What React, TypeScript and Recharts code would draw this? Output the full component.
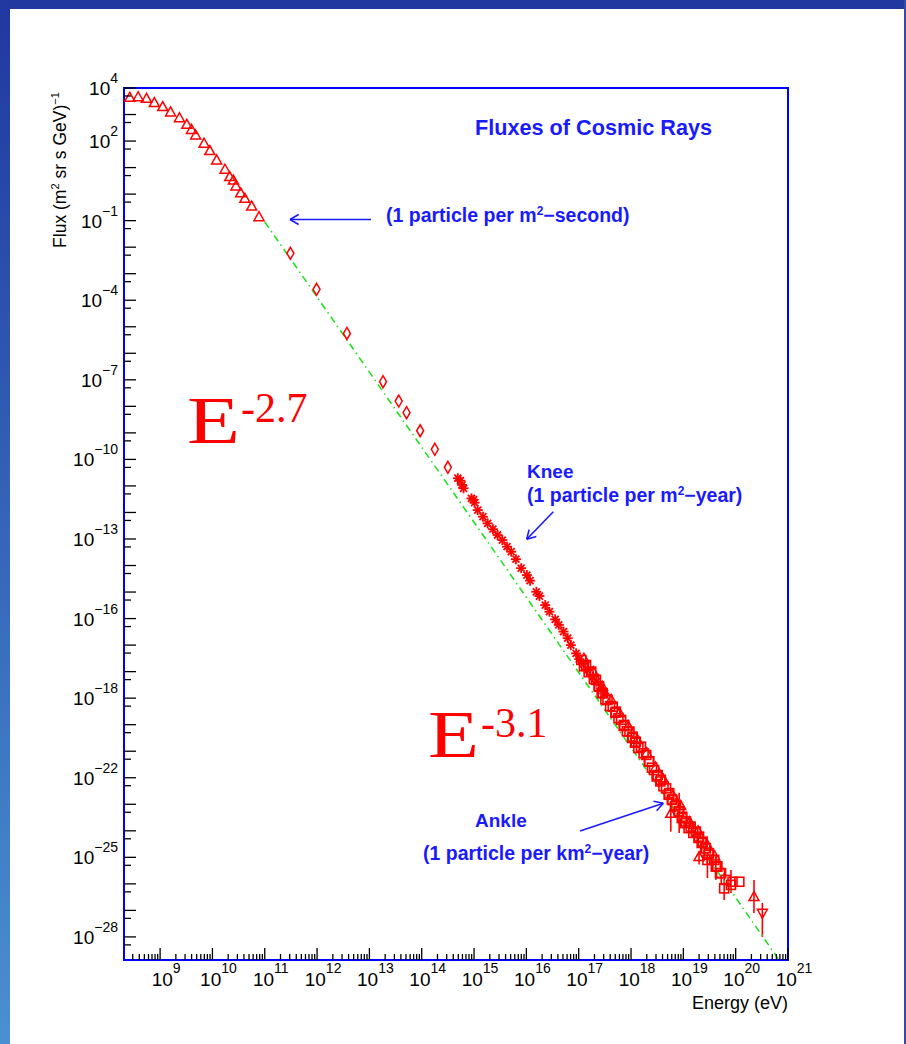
import React from 'react';
import { ScatterChart, Scatter, XAxis, YAxis, ReferenceArea, ErrorBar } from 'recharts';

// ---------- axis ranges (log10 units) ----------
const X_MIN = 8.31;
const X_MAX = 21;
const Y_MIN = -28.87;
const Y_MAX = 4;

// ---------- tick labels ----------
const X_LABEL_POS = [9, 10, 11, 12, 13, 14, 15, 16, 17, 18, 19, 20, 21];
const X_LABEL_EXP = ['9', '10', '11', '12', '13', '14', '15', '16', '17', '18', '19', '20', '21'];
const Y_LABEL_POS = [4, 2, -1, -4, -7, -10, -13, -16, -19, -22, -25, -28];
const Y_LABEL_EXP = ['4', '2', '\u22121', '\u22124', '\u22127', '\u221210', '\u221213', '\u221216', '\u221218', '\u221222', '\u221225', '\u221228'];

// ---------- data (log10 E [eV], log10 flux) ----------
const TRI_LOGE = [8.42, 8.58, 8.74, 8.89, 9.05, 9.2, 9.37, 9.51, 9.6, 9.68, 9.84, 9.95, 10.08, 10.24, 10.33, 10.4, 10.45, 10.54, 10.62, 10.75, 10.89];
const TRI_LOGF = [3.65, 3.67, 3.61, 3.45, 3.3, 3.1, 2.88, 2.63, 2.44, 2.23, 1.92, 1.64, 1.29, 0.94, 0.66, 0.53, 0.31, 0.05, -0.16, -0.45, -0.85];

const DIA_LOGE = [11.49, 11.99, 12.57, 13.26, 13.56, 13.71, 13.97, 14.25, 14.5];
const DIA_LOGF = [-2.23, -3.59, -5.25, -7.07, -7.8, -8.24, -8.92, -9.62, -10.3];

const STAR_LOGE = [14.69, 14.74, 14.77, 14.8, 14.95, 14.99, 15.01, 15.07, 15.17, 15.26, 15.36, 15.45, 15.54, 15.63, 15.71, 15.8, 15.9, 16.01, 16.07, 16.19, 16.25, 16.36, 16.44, 16.55, 16.62, 16.71, 16.79, 16.85, 16.95, 17.01, 17.09, 17.17, 17.27, 17.34, 17.43, 17.49];
const STAR_LOGF = [-10.71, -10.8, -10.96, -11.09, -11.47, -11.52, -11.63, -11.91, -12.16, -12.41, -12.63, -12.85, -13.04, -13.29, -13.48, -13.76, -14.1, -14.36, -14.57, -14.99, -15.15, -15.49, -15.74, -16.03, -16.24, -16.49, -16.74, -17.0, -17.31, -17.53, -17.71, -17.94, -18.19, -18.38, -18.63, -18.82];

const SQ_LOGE = [17.05, 17.14, 17.24, 17.33, 17.39, 17.46, 17.55, 17.65, 17.71, 17.81, 17.87, 17.97, 18.03, 18.09, 18.19, 18.29, 18.35, 18.44, 18.51, 18.57, 18.67, 18.73, 18.79, 18.86, 18.92, 18.98, 19.05, 19.14, 19.24, 19.3, 19.37, 19.43, 19.49, 19.59, 19.65, 19.72, 19.81, 19.94, 20.07];
const SQ_LOGF = [-17.56, -17.75, -18.0, -18.31, -18.57, -18.82, -19.07, -19.32, -19.51, -19.82, -20.01, -20.26, -20.45, -20.64, -20.83, -21.14, -21.39, -21.71, -21.9, -22.08, -22.4, -22.58, -22.84, -23.03, -23.28, -23.47, -23.65, -23.84, -24.03, -24.22, -24.41, -24.66, -24.85, -25.1, -25.35, -25.6, -25.85, -25.92, -25.92];

const SQ2_LOGE = [17.1, 17.19, 17.29, 17.38, 17.44, 17.51, 17.6, 17.7, 17.76, 17.86, 17.92, 18.02, 18.08, 18.14, 18.24, 18.34, 18.4, 18.49, 18.56, 18.62, 18.72, 18.78, 18.84, 18.91, 18.97, 19.03, 19.1, 19.19, 19.29, 19.35, 19.42, 19.48, 19.54, 19.64, 19.7];
const SQ2_LOGF = [-17.8, -18.02, -18.28, -18.55, -18.8, -19.05, -19.3, -19.55, -19.75, -20.05, -20.25, -20.5, -20.68, -20.88, -21.08, -21.38, -21.62, -21.95, -22.14, -22.32, -22.64, -22.82, -23.08, -23.27, -23.52, -23.71, -23.9, -24.08, -24.27, -24.46, -24.65, -24.9, -25.09, -25.34, -25.59];

const TRI2_LOGE = [17.1, 17.28, 17.45, 17.62, 17.78, 17.95, 18.12, 18.3, 18.47, 18.62, 18.8, 18.95, 19.12, 19.28, 19.45, 19.6];
const TRI2_LOGF = [-17.5, -18.0, -18.55, -19.05, -19.55, -20.05, -20.55, -21.05, -21.6, -22.05, -22.65, -23.05, -23.65, -24.0, -24.5, -24.95];

const ERR_LOGE = [18.76, 18.92, 19.3, 19.46, 19.62, 19.78, 19.91, 20.35, 20.51];
const ERR_LOGF = [-23.34, -23.28, -24.97, -25.1, -25.35, -26.17, -26.04, -26.48, -27.11];
const ERR_LO = [0.69, 0.8, 0.3, 0.68, 0.5, 0.44, 0.3, 0.62, 0.89];
const ERR_HI = [0.38, 0.71, 0.2, 0.26, 0.38, 0.58, 0.56, 0.63, 0.39];
const ERR_MARK = ['tri', 'none', 'tri', 'sq', 'sq', 'sq', 'sq', 'tri', 'tridown'];

const FIT_LOGE = [11.0, 20.83];
const FIT_LOGF = [-1.05, -28.87];

// ---------- derived tables ----------
const zip = (xs: number[], ys: number[]) => xs.map((x, i) => ({ x, y: ys[i] }));
const TRI_DATA = zip(TRI_LOGE, TRI_LOGF);
const DIA_DATA = zip(DIA_LOGE, DIA_LOGF);
const STAR_DATA = zip(STAR_LOGE, STAR_LOGF);
const SQ_DATA = zip(SQ_LOGE, SQ_LOGF);
const SQ2_DATA = zip(SQ2_LOGE, SQ2_LOGF);
const TRI2_DATA = zip(TRI2_LOGE, TRI2_LOGF);
const ERR_DATA = ERR_LOGE.map((x, i) => ({ x, y: ERR_LOGF[i], err: [ERR_LO[i], ERR_HI[i]], m: ERR_MARK[i] }));
const FIT_DATA = zip(FIT_LOGE, FIT_LOGF);

const X_TICKS: number[] = [];
for (let n = 8; n <= 21; n++) {
  for (let k = 1; k <= 9; k++) {
    const v = n + Math.log10(k);
    if (v >= X_MIN - 1e-9 && v <= X_MAX + 1e-9) X_TICKS.push(v);
  }
}
const Y_TICKS: number[] = [];
for (let n = -29; n <= 4; n++) {
  if (n >= Y_MIN && n <= Y_MAX) Y_TICKS.push(n);
  const h = n + Math.log10(5);
  if (h >= Y_MIN && h <= Y_MAX) Y_TICKS.push(h);
}

const RED = '#ff0000';
const BLUE = '#1a1aff';
const SANS = "'Liberation Sans', Arial, Helvetica, sans-serif";
const SERIF = "'Liberation Serif', 'Times New Roman', serif";

const isInt = (v: number) => Math.abs(v - Math.round(v)) < 1e-6;
const findIdx = (arr: number[], v: number) => arr.findIndex((p) => Math.abs(p - v) < 1e-6);

const XTick = (props: any) => {
  const { x, y, payload } = props;
  const v = payload.value;
  const major = isInt(v);
  const idx = major ? findIdx(X_LABEL_POS, v) : -1;
  return (
    <g>
      <line x1={x} y1={y} x2={x} y2={y - (major ? 12 : 6)} stroke="#000" strokeWidth={1.3} />
      {idx >= 0 && (
        <text x={x + 6} y={y + 26} textAnchor="middle" fontFamily={SANS} fontSize={19} fill="#000">
          10
          <tspan dy={-13} fontSize={14}>{X_LABEL_EXP[idx]}</tspan>
        </text>
      )}
    </g>
  );
};

const YTick = (props: any) => {
  const { x, y, payload } = props;
  const v = payload.value;
  const major = isInt(v);
  const idx = major ? findIdx(Y_LABEL_POS, v) : -1;
  return (
    <g>
      <line x1={x} y1={y} x2={x + (major ? 12 : 7)} y2={y} stroke="#000" strokeWidth={1.3} />
      {idx >= 0 && (
        <text x={x - 6} y={y + 7} textAnchor="end" fontFamily={SANS} fontSize={19} fill="#000">
          10
          <tspan dy={-12} fontSize={14}>{Y_LABEL_EXP[idx]}</tspan>
        </text>
      )}
    </g>
  );
};

const TriUp = ({ cx, cy }: any) => (
  <polygon points={`${cx},${cy - 5} ${cx - 5},${cy + 4} ${cx + 5},${cy + 4}`} fill="none" stroke={RED} strokeWidth={1.5} />
);
const TriDown = ({ cx, cy }: any) => (
  <polygon points={`${cx},${cy + 5} ${cx - 5},${cy - 4} ${cx + 5},${cy - 4}`} fill="none" stroke={RED} strokeWidth={1.5} />
);
const Diamond = ({ cx, cy }: any) => (
  <polygon points={`${cx},${cy - 6} ${cx + 3.5},${cy} ${cx},${cy + 6} ${cx - 3.5},${cy}`} fill="none" stroke={RED} strokeWidth={1.5} />
);
const Star = ({ cx, cy }: any) => (
  <g stroke={RED} strokeWidth={1.8}>
    <line x1={cx - 5} y1={cy} x2={cx + 5} y2={cy} />
    <line x1={cx} y1={cy - 5} x2={cx} y2={cy + 5} />
    <line x1={cx - 3.5} y1={cy - 3.5} x2={cx + 3.5} y2={cy + 3.5} />
    <line x1={cx - 3.5} y1={cy + 3.5} x2={cx + 3.5} y2={cy - 3.5} />
  </g>
);
const Square = ({ cx, cy }: any) => (
  <rect x={cx - 4.5} y={cy - 4.5} width={9} height={9} fill="none" stroke={RED} strokeWidth={1.6} />
);
const ErrMark = (props: any) => {
  const m = props.payload?.m ?? props.m;
  if (m === 'tri') return <TriUp {...props} />;
  if (m === 'tridown') return <TriDown {...props} />;
  if (m === 'sq') return <Square {...props} />;
  return <g />;
};

const Arrow = ({ x1, y1, x2, y2, len = 10 }: any) => {
  const dx = x2 - x1;
  const dy = y2 - y1;
  const d = Math.hypot(dx, dy);
  const bx = -dx / d;
  const by = -dy / d;
  const a = Math.PI / 6;
  const w1x = x2 + len * (bx * Math.cos(a) - by * Math.sin(a));
  const w1y = y2 + len * (bx * Math.sin(a) + by * Math.cos(a));
  const w2x = x2 + len * (bx * Math.cos(a) + by * Math.sin(a));
  const w2y = y2 + len * (-bx * Math.sin(a) + by * Math.cos(a));
  return (
    <g stroke={BLUE} strokeWidth={1.6} fill="none">
      <line x1={x1} y1={y1} x2={x2} y2={y2} />
      <line x1={x2} y1={y2} x2={w1x} y2={w1y} />
      <line x1={x2} y1={y2} x2={w2x} y2={w2y} />
    </g>
  );
};

export default function App() {
  return (
    <div style={{ position: 'absolute', left: 0, top: 0, width: 906, height: 1044, background: '#fff', overflow: 'hidden' }}>
      <div style={{ position: 'absolute', left: 0, top: 0 }}>
        <ScatterChart width={906} height={1044} margin={{ top: 88, right: 118, bottom: 44, left: 64 }}>
          <XAxis
            type="number"
            dataKey="x"
            domain={[X_MIN, X_MAX]}
            allowDataOverflow
            ticks={X_TICKS}
            interval={0}
            tickSize={0}
            tickMargin={0}
            axisLine={false}
            tickLine={false}
            height={40}
            tick={(p: any) => <XTick {...p} />}
          />
          <YAxis
            type="number"
            dataKey="y"
            domain={[Y_MIN, Y_MAX]}
            allowDataOverflow
            ticks={Y_TICKS}
            interval={0}
            tickSize={0}
            tickMargin={0}
            axisLine={false}
            tickLine={false}
            width={60}
            tick={(p: any) => <YTick {...p} />}
          />
          <Scatter
            data={FIT_DATA}
            isAnimationActive={false}
            line={{ stroke: '#22e022', strokeWidth: 1.6, strokeDasharray: '7 4 1.5 4' }}
            shape={() => <g />}
          />
          <Scatter data={TRI_DATA} isAnimationActive={false} shape={(p: any) => <TriUp {...p} />} />
          <Scatter data={DIA_DATA} isAnimationActive={false} shape={(p: any) => <Diamond {...p} />} />
          <Scatter data={STAR_DATA} isAnimationActive={false} shape={(p: any) => <Star {...p} />} />
          <Scatter data={SQ_DATA} isAnimationActive={false} shape={(p: any) => <Square {...p} />} />
          <Scatter data={SQ2_DATA} isAnimationActive={false} shape={(p: any) => <Square {...p} />} />
          <Scatter data={TRI2_DATA} isAnimationActive={false} shape={(p: any) => <TriUp {...p} />} />
          <Scatter data={ERR_DATA} isAnimationActive={false} shape={(p: any) => <ErrMark {...p} />}>
            <ErrorBar dataKey="err" direction="y" width={0} stroke={RED} strokeWidth={1.6} />
          </Scatter>
          <ReferenceArea x1={X_MIN} x2={X_MAX} y1={Y_MIN} y2={Y_MAX} fill="none" stroke="#0000ff" strokeWidth={2} ifOverflow="visible" />
        </ScatterChart>
      </div>

      <svg width={906} height={1044} style={{ position: 'absolute', left: 0, top: 0, pointerEvents: 'none' }}>
        <defs>
          <linearGradient id="leftband" x1="0" y1="0" x2="0" y2="1">
            <stop offset="0" stopColor="#2038a0" />
            <stop offset="1" stopColor="#4a90d0" />
          </linearGradient>
        </defs>
        <rect x={0} y={0} width={906} height={9} fill="#2038a0" />
        <rect x={0} y={0} width={10} height={1044} fill="url(#leftband)" />
        <rect x={904} y={0} width={2} height={1044} fill="#3a4a9a" />

        <text x={788} y={1009} textAnchor="end" fontFamily={SANS} fontSize={18} fill="#000">Energy (eV)</text>
        <text transform="rotate(-90 66 170)" x={66} y={170} textAnchor="middle" fontFamily={SANS} fontSize={17.5} fill="#000">
          Flux (m<tspan dy={-7} fontSize={11}>2</tspan><tspan dy={7}> sr s GeV)</tspan><tspan dy={-7} fontSize={11}>{'\u22121'}</tspan>
        </text>

        <g fontFamily={SANS} fontWeight="bold" fill={BLUE}>
          <text x={475} y={134.5} fontSize={21.5} textLength={237} lengthAdjust="spacingAndGlyphs">Fluxes of Cosmic Rays</text>
          <text x={386} y={222} fontSize={19.5}>
            (1 particle per m<tspan dy={-7} fontSize={12}>2</tspan><tspan dy={7}>{'\u2212second)'}</tspan>
          </text>
          <text x={527} y={478} fontSize={19}>Knee</text>
          <text x={527} y={501.5} fontSize={19.5}>
            (1 particle per m<tspan dy={-7} fontSize={12}>2</tspan><tspan dy={7}>{'\u2212year)'}</tspan>
          </text>
          <text x={475} y={826.5} fontSize={19}>Ankle</text>
          <text x={423} y={860} fontSize={19.5}>
            (1 particle per km<tspan dy={-7} fontSize={12}>2</tspan><tspan dy={7}>{'\u2212year)'}</tspan>
          </text>
        </g>
        <Arrow x1={371} y1={219.5} x2={290} y2={219.5} />
        <Arrow x1={553.3} y1={511.7} x2={526.7} y2={539.3} />
        <Arrow x1={580} y1={831} x2={663.3} y2={803.3} />

        <g fontFamily={SERIF} fill={RED}>
          <text x={187} y={443} fontSize={68} textLength={53} lengthAdjust="spacingAndGlyphs">E</text>
          <text x={241} y={422} fontSize={42}>-2.7</text>
          <text x={428} y={757} fontSize={68} textLength={51} lengthAdjust="spacingAndGlyphs">E</text>
          <text x={481} y={737} fontSize={42}>-3.1</text>
        </g>
      </svg>
    </div>
  );
}
